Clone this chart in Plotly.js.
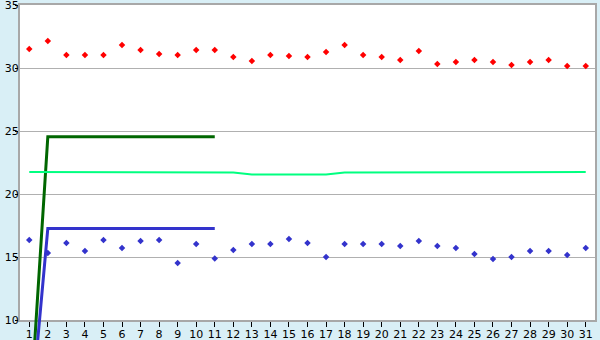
<!DOCTYPE html>
<html>
<head>
<meta charset="utf-8">
<script src="https://cdn.plot.ly/plotly-3.0.1.min.js"></script>
<style>html,body{margin:0;padding:0;background:#D9EFF6;}#chart{width:600px;height:340px;}</style>
</head>
<body>
<div id="chart"></div>
<script>
const days = Array.from({length: 31}, (_, i) => i + 1);
const redValues = [31.5, 32.14, 31.03, 31.03, 31.03, 31.83, 31.43, 31.11, 31.03, 31.43,
  31.43, 30.87, 30.56, 31.03, 30.95, 30.87, 31.27, 31.83, 31.03, 30.87,
  30.63, 31.35, 30.32, 30.48, 30.63, 30.48, 30.24, 30.48, 30.63, 30.16, 30.16];
const blueValues = [16.35, 15.32, 16.11, 15.48, 16.35, 15.71, 16.27, 16.35, 14.52, 16.03,
  14.89, 15.56, 16.03, 16.03, 16.43, 16.11, 15.0, 16.03, 16.03, 16.03,
  15.87, 16.27, 15.87, 15.71, 15.24, 14.84, 15.0, 15.48, 15.48, 15.16, 15.71];
const lineDays = [1, 2, 3, 4, 5, 6, 7, 8, 9, 10, 11];
const greenLine = [1.5, 24.55, 24.55, 24.55, 24.55, 24.55, 24.55, 24.55, 24.55, 24.55, 24.55];
const blueLine = [1.0, 17.27, 17.27, 17.27, 17.27, 17.27, 17.27, 17.27, 17.27, 17.27, 17.27];
const lightGreenLine = [21.75, 21.75,
  21.7, 21.7, 21.7, 21.7, 21.7, 21.7, 21.7, 21.7, 21.7, 21.7,
  21.54, 21.54, 21.54, 21.54, 21.54,
  21.7, 21.7, 21.7, 21.7, 21.7, 21.7, 21.7, 21.7, 21.7, 21.7,
  21.75, 21.75, 21.75, 21.75];
const yTicks = [10, 15, 20, 25, 30, 35];

// plot-area geometry (pixels)
const W = 600, H = 340, L = 20, R = 595, T = 5, B = 320;
const xMin = 0.5, xMax = 31.5, yMin = 10, yMax = 35;
const pxPerX = (R - L) / (xMax - xMin);
const pxPerY = (B - T) / (yMax - yMin);
const x2Range = [xMin - L / pxPerX, xMax + (W - R) / pxPerX];
const y2Range = [yMin - (H - B) / pxPerY, yMax + T / pxPerY];

const font = {family: 'DejaVu Sans, Verdana, sans-serif', size: 11, color: '#000'};

const traces = [
  {x: lineDays, y: greenLine, xaxis: 'x2', yaxis: 'y2', mode: 'lines',
   line: {color: '#006600', width: 3}, hoverinfo: 'skip'},
  {x: lineDays, y: blueLine, xaxis: 'x2', yaxis: 'y2', mode: 'lines',
   line: {color: '#3333CC', width: 3}, hoverinfo: 'skip'},
  {x: days, y: lightGreenLine, xaxis: 'x2', yaxis: 'y2', mode: 'lines',
   line: {color: '#00FF80', width: 2}, hoverinfo: 'skip'},
  {x: days, y: redValues, mode: 'markers', cliponaxis: false,
   marker: {symbol: 'diamond', size: 5, color: '#FF0000'}},
  {x: days, y: blueValues, mode: 'markers', cliponaxis: false,
   marker: {symbol: 'diamond', size: 5, color: '#3333CC'}}
];

const layout = {
  width: W, height: H,
  margin: {l: 0, r: 0, t: 0, b: 0, pad: 0},
  paper_bgcolor: '#D9EFF6',
  plot_bgcolor: 'rgba(0,0,0,0)',
  showlegend: false,
  font: font,
  shapes: [{type: 'rect', xref: 'paper', yref: 'paper', layer: 'below',
    x0: L / W, x1: R / W, y0: (H - B) / H, y1: (H - T) / H,
    fillcolor: '#FFFFFF', line: {width: 0}}],
  xaxis: {
    domain: [L / W, R / W], range: [xMin, xMax], automargin: false,
    tickmode: 'array', tickvals: days, ticktext: days.map(String),
    ticks: 'outside', ticklen: 5, tickcolor: '#000', tickwidth: 1,
    ticklabelstandoff: -2, ticklabeloverflow: 'allow',
    showline: true, linecolor: '#A8A8A8', linewidth: 2, mirror: true,
    showgrid: false, zeroline: false, tickfont: font
  },
  yaxis: {
    domain: [(H - B) / H, (H - T) / H], range: [yMin, yMax], automargin: false,
    tickmode: 'array', tickvals: yTicks,
    ticks: 'outside', ticklen: 3, tickcolor: '#000', tickwidth: 1,
    ticklabelstandoff: -6, ticklabeloverflow: 'allow',
    showline: true, linecolor: '#A8A8A8', linewidth: 2, mirror: true,
    showgrid: true, gridcolor: '#B0B0B0', gridwidth: 1, zeroline: false, tickfont: font
  },
  xaxis2: {domain: [0, 1], range: x2Range, anchor: 'y2', visible: false, fixedrange: true},
  yaxis2: {domain: [0, 1], range: y2Range, anchor: 'x2', visible: false, fixedrange: true}
};

Plotly.newPlot('chart', traces, layout, {staticPlot: true, displayModeBar: false});
</script>
</body>
</html>
